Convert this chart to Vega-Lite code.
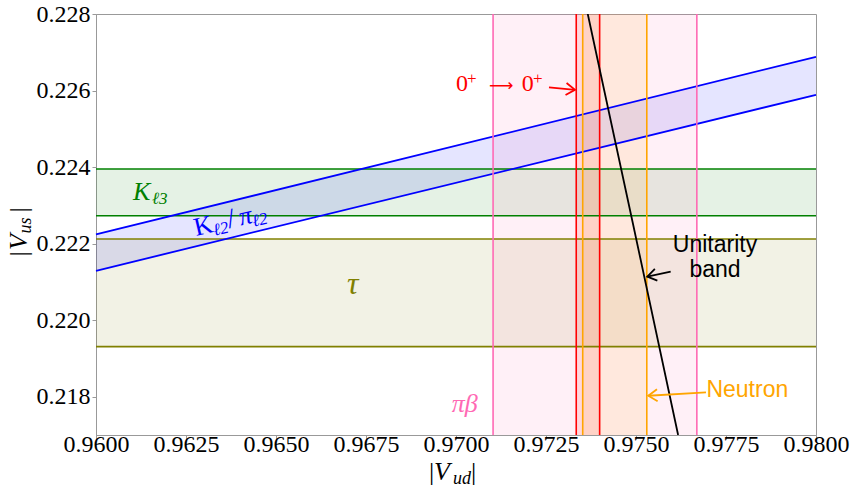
{
  "$schema": "https://vega.github.io/schema/vega-lite/v6.json",
  "width": 720,
  "height": 421,
  "autosize": {"type": "none"},
  "padding": {"left": 96, "top": 14, "right": 37, "bottom": 57},
  "config": {
    "view": {"stroke": "#999999", "strokeWidth": 1},
    "axis": {
      "labelFont": "Liberation Serif",
      "labelFontSize": 24,
      "labelColor": "#000000",
      "domainColor": "#999999",
      "tickColor": "#999999",
      "tickSize": 4,
      "grid": false,
      "title": null,
      "labelPadding": 2,
      "labelFlush": false,
      "labelOverlap": false
    }
  },
  "datasets": {
    "hb": [
      {"grp": "kl3", "lo": 0.22273, "hi": 0.22395},
      {"grp": "tau", "lo": 0.21931, "hi": 0.22212}
    ],
    "vb": [
      {"grp": "pib", "lo": 0.97103, "hi": 0.97669},
      {"grp": "sup", "lo": 0.97334, "hi": 0.97399},
      {"grp": "neut", "lo": 0.97352, "hi": 0.9753}
    ],
    "kl2": [
      {"grp": "kl2", "vud": 0.96, "lo": 0.22129, "hi": 0.22224},
      {"grp": "kl2", "vud": 0.98, "lo": 0.22589, "hi": 0.22688}
    ],
    "unit": [
      {"grp": "unit", "vud": 0.97366, "vus": 0.228},
      {"grp": "unit", "vud": 0.97492, "vus": 0.2225},
      {"grp": "unit", "vud": 0.97617, "vus": 0.217}
    ],
    "arrows": [
      {"grp": "sup", "x0": 0.972583, "y0": 0.226081, "x1": 0.973306, "y1": 0.22602},
      {"grp": "unit", "x0": 0.975964, "y0": 0.221269, "x1": 0.975314, "y1": 0.221138},
      {"grp": "neut", "x0": 0.976944, "y0": 0.218115, "x1": 0.975342, "y1": 0.218026}
    ],
    "ital": [
      {"grp": "kl3", "part": "main", "t": "K", "x": 0.961028, "y": 0.223144},
      {"grp": "kl3", "part": "sub", "t": "ℓ3", "x": 0.961556, "y": 0.223039},
      {"grp": "tau", "part": "big", "t": "τ", "x": 0.966972, "y": 0.220686},
      {"grp": "pib", "part": "main", "t": "πβ", "x": 0.969881, "y": 0.2176},
      {"grp": "kl2", "part": "sub", "t": "ℓ2", "x": 0.963289, "y": 0.222206},
      {"grp": "kl2", "part": "main", "t": "π", "x": 0.964022, "y": 0.222473},
      {"grp": "kl2", "part": "sub", "t": "ℓ2", "x": 0.964372, "y": 0.222442},
      {"grp": "ytitle", "part": "title", "t": "V", "x": 0.958083, "y": 0.221836},
      {"grp": "ytitle", "part": "tsub", "t": "us", "x": 0.958194, "y": 0.222263},
      {"grp": "xtitle", "part": "title", "t": "V", "x": 0.969389, "y": 0.215822},
      {"grp": "xtitle", "part": "tsub", "t": "ud", "x": 0.969917, "y": 0.215717}
    ],
    "upright": [
      {"grp": "kl2", "part": "main", "t": "K", "x": 0.962778, "y": 0.222202},
      {"grp": "kl2", "part": "slash", "t": "/", "x": 0.963697, "y": 0.222402},
      {"grp": "sup", "part": "num", "t": "0", "x": 0.97, "y": 0.225976},
      {"grp": "sup", "part": "sub", "t": "+", "x": 0.970306, "y": 0.226177},
      {"grp": "sup", "part": "num", "t": "0", "x": 0.971825, "y": 0.225976},
      {"grp": "sup", "part": "sub", "t": "+", "x": 0.972139, "y": 0.226177},
      {"grp": "ytitle", "part": "title", "t": "|", "x": 0.958083, "y": 0.221661},
      {"grp": "ytitle", "part": "title", "t": "|", "x": 0.958083, "y": 0.222812},
      {"grp": "xtitle", "part": "title", "t": "|", "x": 0.96925, "y": 0.215822},
      {"grp": "xtitle", "part": "title", "t": "|", "x": 0.970417, "y": 0.215822}
    ],
    "glyph": [
      {"grp": "sup", "t": "⟶", "x": 0.970917, "y": 0.225976}
    ],
    "sans": [
      {"grp": "unit", "t": "Unitarity\nband", "x": 0.977194, "y": 0.221792},
      {"grp": "neut", "t": "Neutron", "x": 0.978092, "y": 0.218}
    ]
  },
  "resolve": {"scale": {"angle": "independent", "size": "independent"}},
  "layer": [
    {
      "data": {"name": "hb"},
      "mark": {"type": "rect", "fillOpacity": 0.1, "strokeWidth": 0},
      "encoding": {
        "x": {"datum": 0.96, "type": "quantitative", "scale": {"domain": [0.96, 0.98], "nice": false, "zero": false},
              "axis": {"values": [0.96, 0.9625, 0.965, 0.9675, 0.97, 0.9725, 0.975, 0.9775, 0.98], "format": ".4f", "labelPadding": -7}},
        "x2": {"datum": 0.98},
        "y": {"field": "lo", "type": "quantitative", "scale": {"domain": [0.217, 0.228], "nice": false, "zero": false},
              "axis": {"values": [0.218, 0.22, 0.222, 0.224, 0.226, 0.228], "format": ".3f"}},
        "y2": {"field": "hi"},
        "color": {"field": "grp", "type": "nominal", "legend": null,
                  "scale": {"domain": ["kl3", "kl2", "tau", "pib", "sup", "unit", "neut", "ytitle", "xtitle"],
                            "range": ["#008000", "#0000ff", "#808000", "#ff69b4", "#ff0000", "#000000", "#ffa500", "#000000", "#000000"]}}
      }
    },
    {
      "data": {"name": "kl2"},
      "mark": {"type": "area", "fillOpacity": 0.1},
      "encoding": {
        "x": {"field": "vud", "type": "quantitative"},
        "y": {"field": "lo", "type": "quantitative"},
        "y2": {"field": "hi"},
        "color": {"field": "grp", "type": "nominal", "legend": null}
      }
    },
    {
      "data": {"name": "vb"},
      "mark": {"type": "rect", "fillOpacity": 0.1, "strokeWidth": 0},
      "encoding": {
        "x": {"field": "lo", "type": "quantitative"},
        "x2": {"field": "hi"},
        "color": {"field": "grp", "type": "nominal", "legend": null}
      }
    },
    {
      "data": {"name": "hb"},
      "mark": {"type": "rule", "strokeWidth": 1.6},
      "encoding": {
        "y": {"field": "lo", "type": "quantitative"},
        "color": {"field": "grp", "type": "nominal", "legend": null}
      }
    },
    {
      "data": {"name": "hb"},
      "mark": {"type": "rule", "strokeWidth": 1.6},
      "encoding": {
        "y": {"field": "hi", "type": "quantitative"},
        "color": {"field": "grp", "type": "nominal", "legend": null}
      }
    },
    {
      "data": {"name": "kl2"},
      "mark": {"type": "line", "strokeWidth": 1.8},
      "encoding": {
        "x": {"field": "vud", "type": "quantitative"},
        "y": {"field": "lo", "type": "quantitative"},
        "color": {"field": "grp", "type": "nominal", "legend": null}
      }
    },
    {
      "data": {"name": "kl2"},
      "mark": {"type": "line", "strokeWidth": 1.8},
      "encoding": {
        "x": {"field": "vud", "type": "quantitative"},
        "y": {"field": "hi", "type": "quantitative"},
        "color": {"field": "grp", "type": "nominal", "legend": null}
      }
    },
    {
      "data": {"name": "vb"},
      "mark": {"type": "rule", "strokeWidth": 1.6},
      "encoding": {
        "x": {"field": "lo", "type": "quantitative"},
        "color": {"field": "grp", "type": "nominal", "legend": null}
      }
    },
    {
      "data": {"name": "vb"},
      "mark": {"type": "rule", "strokeWidth": 1.6},
      "encoding": {
        "x": {"field": "hi", "type": "quantitative"},
        "color": {"field": "grp", "type": "nominal", "legend": null}
      }
    },
    {
      "data": {"name": "unit"},
      "mark": {"type": "line", "strokeWidth": 1.8, "clip": true},
      "encoding": {
        "x": {"field": "vud", "type": "quantitative"},
        "y": {"field": "vus", "type": "quantitative"},
        "order": {"field": "vus", "sort": "descending"},
        "color": {"field": "grp", "type": "nominal", "legend": null}
      }
    },
    {
      "data": {"name": "arrows"},
      "mark": {"type": "rule", "strokeWidth": 1.8},
      "encoding": {
        "x": {"field": "x0", "type": "quantitative"},
        "y": {"field": "y0", "type": "quantitative"},
        "x2": {"field": "x1"},
        "y2": {"field": "y1"},
        "color": {"field": "grp", "type": "nominal", "legend": null}
      }
    },
    {
      "data": {"name": "arrows"},
      "mark": {"type": "point", "shape": "M-1.5,-1L0,0L-1.5,1", "filled": false, "strokeWidth": 1.8, "size": 144, "opacity": 1},
      "encoding": {
        "x": {"field": "x1", "type": "quantitative"},
        "y": {"field": "y1", "type": "quantitative"},
        "angle": {"field": "grp", "type": "nominal", "legend": null,
                  "scale": {"type": "ordinal", "domain": ["sup", "unit", "neut"], "range": [5, 168, 177]}},
        "color": {"field": "grp", "type": "nominal", "legend": null}
      }
    },
    {
      "data": {"name": "ital"},
      "mark": {"type": "text", "font": "Liberation Serif", "fontStyle": "italic", "align": "left", "baseline": "alphabetic"},
      "encoding": {
        "x": {"field": "x", "type": "quantitative"},
        "y": {"field": "y", "type": "quantitative"},
        "text": {"field": "t"},
        "size": {"field": "part", "type": "ordinal", "legend": null,
                 "scale": {"type": "ordinal", "domain": ["main", "sub", "title", "tsub", "num", "slash", "big"], "range": [26, 17, 26, 18, 24, 28, 32]}},
        "angle": {"field": "grp", "type": "nominal", "legend": null,
                  "scale": {"type": "ordinal", "domain": ["kl3", "kl2", "tau", "pib", "sup", "unit", "neut", "ytitle", "xtitle"], "range": [0, 347, 0, 0, 0, 0, 0, 270, 0]}},
        "color": {"field": "grp", "type": "nominal", "legend": null}
      }
    },
    {
      "data": {"name": "upright"},
      "mark": {"type": "text", "font": "Liberation Serif", "align": "left", "baseline": "alphabetic"},
      "encoding": {
        "x": {"field": "x", "type": "quantitative"},
        "y": {"field": "y", "type": "quantitative"},
        "text": {"field": "t"},
        "size": {"field": "part", "type": "ordinal", "legend": null,
                 "scale": {"type": "ordinal", "domain": ["main", "sub", "title", "tsub", "num", "slash", "big"], "range": [26, 17, 26, 18, 24, 28, 32]}},
        "angle": {"field": "grp", "type": "nominal", "legend": null,
                  "scale": {"type": "ordinal", "domain": ["kl3", "kl2", "tau", "pib", "sup", "unit", "neut", "ytitle", "xtitle"], "range": [0, 347, 0, 0, 0, 0, 0, 270, 0]}},
        "color": {"field": "grp", "type": "nominal", "legend": null}
      }
    },
    {
      "data": {"name": "glyph"},
      "mark": {"type": "text", "font": "DejaVu Sans", "fontSize": 17, "align": "left", "baseline": "alphabetic"},
      "encoding": {
        "x": {"field": "x", "type": "quantitative"},
        "y": {"field": "y", "type": "quantitative"},
        "text": {"field": "t"},
        "color": {"field": "grp", "type": "nominal", "legend": null}
      }
    },
    {
      "data": {"name": "sans"},
      "mark": {"type": "text", "font": "Liberation Sans", "fontSize": 23, "align": "center", "baseline": "alphabetic", "lineBreak": "\n", "lineHeight": 25.6},
      "encoding": {
        "x": {"field": "x", "type": "quantitative"},
        "y": {"field": "y", "type": "quantitative"},
        "text": {"field": "t"},
        "color": {"field": "grp", "type": "nominal", "legend": null}
      }
    }
  ]
}
